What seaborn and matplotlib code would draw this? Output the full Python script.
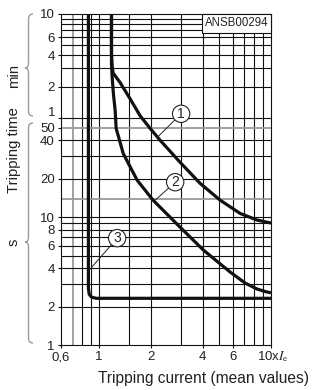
import numpy as np
import matplotlib
matplotlib.use("Agg")
import matplotlib.pyplot as plt
import seaborn as sns
from matplotlib.path import Path
from matplotlib.patches import PathPatch, Rectangle
import matplotlib.transforms as mtransforms
from matplotlib.ticker import NullLocator

# ---------------- data ----------------
curve1_current = [1.18, 1.18, 1.19, 1.206, 1.325, 1.515, 1.732, 1.98, 2.265, 2.96, 3.87, 5.06, 6.62, 8.31, 10.0]
curve1_time = [600, 250, 190, 162, 131, 91.4, 62.7, 49.6, 40, 26.9, 18.4, 13.6, 10.7, 9.5, 9.0]

curve2_current = [1.18, 1.18, 1.19, 1.211, 1.24, 1.256, 1.325, 1.38, 1.664, 2.06, 2.96, 4.05, 5.79, 7.08, 8.31, 9.26, 10.0]
curve2_time = [600, 200, 150, 102, 70, 49.6, 38.5, 31.6, 19.5, 13.6, 8.35, 5.52, 3.72, 3.05, 2.74, 2.62, 2.56]

curve3_current = [0.866, 0.866, 0.875, 0.904, 0.96, 10.0]
curve3_time = [600, 2.79, 2.5, 2.37, 2.32, 2.32]

curve_labels = ["1", "2", "3"]
label_points = [(2.18, 42.2), (2.12, 13.6), (0.866, 3.79)]
label_circles = [(3.0, 65.6), (2.77, 18.8), (1.273, 6.86)]

x_ticks = [0.6, 1, 2, 4, 6, 10]
x_ticklabels = ["0,6", "1", "2", "4", "6", ""]
x_grid_black = [0.8, 0.9, 1, 1.5, 2, 3, 4, 5, 6, 7, 8, 9]
x_grid_grey = [0.7]

# y values in seconds (minutes part: 60 s = 1 min ...)
y_ticks = [1, 2, 4, 6, 8, 10, 20, 40, 50, 60, 120, 240, 360, 600]
y_ticklabels = ["1", "2", "4", "6", "8", "10", "20", "40", "50", "", "2", "4", "6", "10"]
y_grid_black = [2, 3, 4, 5, 6, 7, 8, 9, 10, 20, 30, 40, 60, 120, 180, 240, 300, 360, 420, 480, 540]
y_grid_grey = [14, 50]

# ---------------- styling ----------------
sns.set_style("ticks")
plt.rcParams["font.family"] = ["Liberation Sans", "DejaVu Sans"]
plt.rcParams["mathtext.fontset"] = "stix"

W, H = 314, 390
fig = plt.figure(figsize=(W / 100, H / 100), dpi=100)
ax = fig.add_axes([61 / W, 45 / H, 210 / W, 331 / H])

# seconds part and minutes part of the time axis have different decade lengths
LOG60 = np.log10(60.0)
RATIO = 104.0 / 128.0


def fwd(v):
    v = np.asarray(v, dtype=float)
    lv = np.log10(np.clip(v, 1e-12, None))
    return np.where(lv <= LOG60, lv, LOG60 + (lv - LOG60) * RATIO)


def inv(u):
    u = np.asarray(u, dtype=float)
    u = np.clip(u, -50, 50)
    return np.where(u <= LOG60, 10 ** u, 10 ** (LOG60 + (u - LOG60) / RATIO))


# curves
for cx, cy in [(curve1_current, curve1_time), (curve2_current, curve2_time), (curve3_current, curve3_time)]:
    sns.lineplot(x=cx, y=cy, sort=False, estimator=None, color="#111111", lw=2.3,
                 ax=ax, zorder=4, solid_joinstyle="round", solid_capstyle="butt")

ax.set_xscale("log")
ax.set_yscale("function", functions=(fwd, inv))
ax.set_xlim(0.6, 10)
ax.set_ylim(1, 600)

# grid
for v in x_grid_black:
    ax.axvline(v, color="#111111", lw=0.8, zorder=1)
for v in x_grid_grey:
    ax.axvline(v, color="#9a9a9a", lw=1.3, zorder=1)
for v in y_grid_black:
    ax.axhline(v, color="#111111", lw=0.8, zorder=1)
for v in y_grid_grey:
    ax.axhline(v, color="#9a9a9a", lw=1.3, zorder=1)

# ticks
ax.set_xticks(x_ticks)
ax.set_xticklabels(x_ticklabels)
ax.xaxis.set_minor_locator(NullLocator())
ax.set_yticks(y_ticks)
ax.set_yticklabels(y_ticklabels)
ax.yaxis.set_minor_locator(NullLocator())
ax.tick_params(axis="both", direction="out", length=2.4, width=0.8, colors="#111111",
               labelsize=9.5, labelcolor="#222222")
ax.tick_params(axis="x", pad=2.2)
ax.tick_params(axis="y", pad=2)
ax.set_xlabel("")
ax.set_ylabel("")
for s in ax.spines.values():
    s.set_color("#111111")
    s.set_linewidth(0.8)

# "1" minute label slightly raised
ax.annotate("1", xy=(0, 60), xycoords=("axes fraction", "data"), xytext=(-4.3, 3.5),
            textcoords="offset points", ha="right", va="center", fontsize=9.5, color="#222222")

# 10 x Ie label
fig.text(257 / W, 1 - 349.5 / H, "10x$\\mathit{I}_\\mathrm{e}$", ha="left", va="top",
         fontsize=9.5, color="#222222")

# curve labels in circles
for lab, pt, c in zip(curve_labels, label_points, label_circles):
    ax.annotate(lab, xy=pt, xytext=c, ha="center", va="center", fontsize=10, color="#222222",
                bbox=dict(boxstyle="circle,pad=0.12", fc="white", ec="#222222", lw=0.8),
                arrowprops=dict(arrowstyle="-", color="#222222", lw=0.7, shrinkA=0, shrinkB=0),
                zorder=6)

# drawing number box
ax.add_patch(Rectangle((141 / 210, 312 / 331), 69 / 210, 19 / 331, transform=ax.transAxes,
                       fc="white", ec="#111111", lw=0.8, zorder=5, clip_on=False))
ax.text(176 / 210, 322 / 331, "ANSB00294", transform=ax.transAxes, ha="center", va="center",
        fontsize=8.3, color="#222222", zorder=6)

# axis titles
fig.text(204 / W, 1 - 378 / H, "Tripping current (mean values)", ha="center", va="center",
         fontsize=11.2, color="#222222")
fig.text(14 / W, 1 - 150 / H, "Tripping time", rotation=90, ha="center", va="center",
         fontsize=10.7, color="#222222")
fig.text(14 / W, 1 - 76 / H, "min", rotation=90, ha="center", va="center",
         fontsize=10.7, color="#222222")
fig.text(14 / W, 1 - 242 / H, "s", rotation=90, ha="center", va="center",
         fontsize=10.7, color="#222222")

# braces (pixel coordinates, y downwards)
ptrans = mtransforms.Affine2D().scale(1 / W, -1 / H).translate(0, 1) + fig.transFigure


def brace(top, mid, bottom, xl=28.5, xh=33, xt=25):
    verts = [(xh, top), (xl, top), (xl, top + 5),
             (xl, mid - 5), (xl, mid), (xt, mid),
             (xl, mid), (xl, mid + 5),
             (xl, bottom - 5), (xl, bottom), (xh, bottom)]
    codes = [Path.MOVETO, Path.CURVE3, Path.CURVE3,
             Path.LINETO, Path.CURVE3, Path.CURVE3,
             Path.CURVE3, Path.CURVE3,
             Path.LINETO, Path.CURVE3, Path.CURVE3]
    fig.add_artist(PathPatch(Path(verts, codes), fill=False, ec="#9a9a9a", lw=1.0,
                             transform=ptrans))


brace(14, 68, 116)
brace(123, 242, 343)

fig.savefig("out.png", dpi=100)
